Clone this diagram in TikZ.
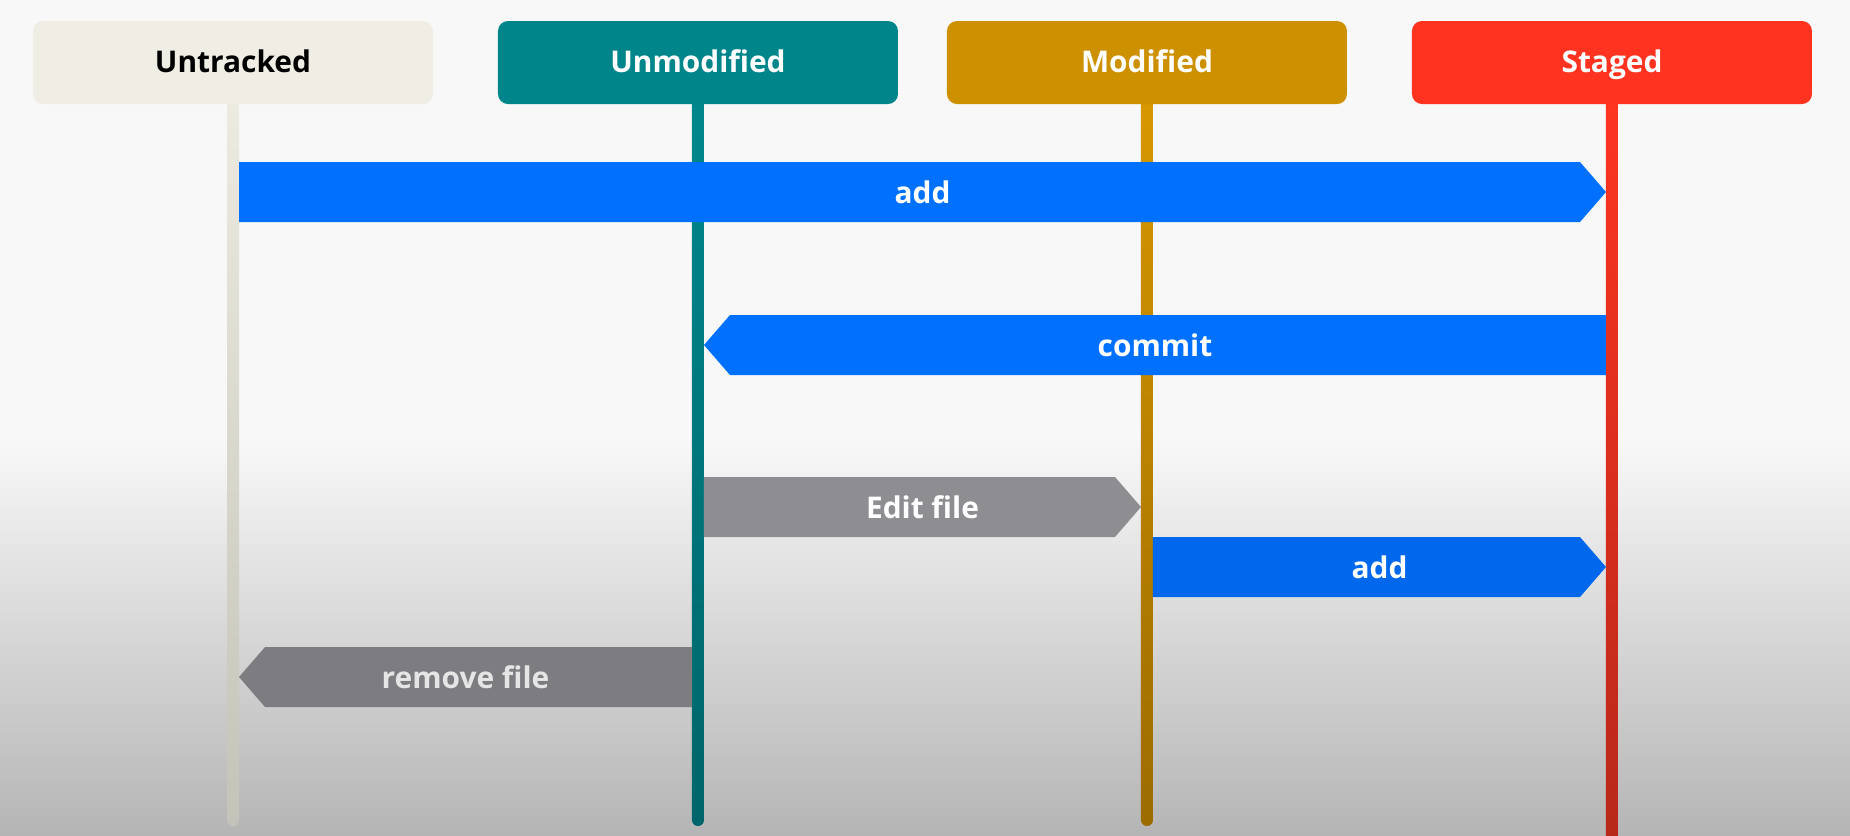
\documentclass[tikz,border=0pt]{standalone}
\usepackage{fontspec}
\setmainfont{Open Sans}
\usetikzlibrary{calc, positioning, shapes}
\definecolor{bgtop}{HTML}{F8F8F9}
\definecolor{bgbottom}{HTML}{B5B5B5}
\definecolor{untrackedfill}{HTML}{F0EDE5}
\definecolor{unmodfill}{HTML}{00858A}
\definecolor{modfill}{HTML}{CD9100}
\definecolor{stagedfill}{HTML}{FF3320}
\definecolor{flowblue}{HTML}{0070FF}
\definecolor{flowblue2}{HTML}{0068EC}
\definecolor{flowgray}{HTML}{8E8E92}
\definecolor{flowgray2}{HTML}{7D7D81}
\pgfdeclarelayer{bg}
\pgfdeclarelayer{lanes}
\pgfsetlayers{bg,lanes,main}
\tikzset{
    state/.style={rounded corners=1mm, minimum width=40mm, minimum height=8.3mm,
        inner sep=0pt, outer sep=0pt, text height=7.7pt, text depth=1.9pt,
        font=\fontsize{8.5}{10}\selectfont\bfseries, text=white},
    barlabel/.style={font=\fontsize{8.5}{10}\selectfont\bfseries, text=white, inner sep=0pt},
}
% bar pointing right: colour, from lane, to lane, row, text
\newcommand\flowto[5]{
    \fill[#1] ($(#2.south |- #4)+(6,30)$) -- ($(#2.south |- #4)+(6,-30)$)
        -- ($(#3.south |- #4)+(-32,-30)$) -- ($(#3.south |- #4)+(-6,0)$)
        -- ($(#3.south |- #4)+(-32,30)$) -- cycle;
    \node[barlabel] at ($(#2.south |- #4)!.5!(#3.south |- #4)$) {#5};
}
% bar pointing left: colour, from lane, to lane, row, text colour, text
\newcommand\flowback[6]{
    \fill[#1] ($(#2.south |- #4)+(-6,30)$) -- ($(#2.south |- #4)+(-6,-30)$)
        -- ($(#3.south |- #4)+(32,-30)$) -- ($(#3.south |- #4)+(6,0)$)
        -- ($(#3.south |- #4)+(32,30)$) -- cycle;
    \node[barlabel, text=#5] at ($(#2.south |- #4)!.5!(#3.south |- #4)$) {#6};
}
\begin{document}
\begin{tikzpicture}[x=0.1mm, y=-0.1mm]

\useasboundingbox (0,0) rectangle (1850,835);
\begin{pgfonlayer}{bg}
\fill[bgtop] (0,0) rectangle (1850,440);
\shade[top color=bgtop, bottom color=bgbottom] (0,440) rectangle (1850,835);
\end{pgfonlayer}

\node[state, fill=untrackedfill, text=black] (untracked) at (233,62.5) {Untracked};
\node[state, fill=unmodfill, right=6.5mm of untracked] (unmodified) {Unmodified};
\node[state, fill=modfill, right=4.9mm of unmodified] (modified) {Modified};
\node[state, fill=stagedfill, right=6.5mm of modified] (staged) {Staged};

\coordinate (bot) at (0,826);
\coordinate (bot2) at (0,860);
\coordinate (row1) at (0,192);
\coordinate (row2) at (0,345);
\coordinate (row3) at (0,507);
\coordinate (row4) at (0,567);
\coordinate (row5) at (0,677);

% lanes
\begin{pgfonlayer}{lanes}
\foreach \lane/\ctop/\cbot/\stop in {untracked/EEECE2/C4C3B9/bot, unmodified/00888D/00656A/bot,
        modified/D89800/9C6C00/bot, staged/FF3521/B5281A/bot2}{
    \definecolor{lanetop}{HTML}{\ctop}
    \definecolor{lanebot}{HTML}{\cbot}
    \shade[top color=lanetop, bottom color=lanebot, rounded corners=0.6mm]
        ($(\lane.south)+(-6,-20)$) rectangle ($(\lane.south |- \stop)+(6,0)$);
}
\end{pgfonlayer}

\flowto{flowblue}{untracked}{staged}{row1}{add}
\flowback{flowblue}{staged}{unmodified}{row2}{white}{commit}
\flowto{flowgray}{unmodified}{modified}{row3}{Edit file}
\flowto{flowblue2}{modified}{staged}{row4}{add}
\flowback{flowgray2}{unmodified}{untracked}{row5}{black!10}{remove file}

\end{tikzpicture}
\end{document}
